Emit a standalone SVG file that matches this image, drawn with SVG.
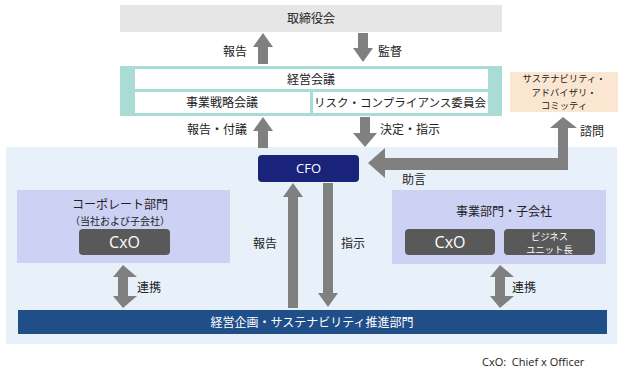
<svg xmlns="http://www.w3.org/2000/svg" width="624" height="371" viewBox="0 0 624 371">
<defs>
<style>
text{font-family:"Noto Sans CJK JP","Liberation Sans",sans-serif;font-size:12px;fill:#222;}
.c{text-anchor:middle;}
.r{text-anchor:end;}
.w{fill:#fff;}
.s93{font-size:9.3px;}
.s10{font-size:10px;}
.s11{font-size:11px;}
.s115{font-size:11.5px;}
.s13{font-size:13px;}
.s16{font-size:16px;}
.lat{font-family:"Open Sans","Liberation Sans",sans-serif;}
.arrow{fill:#808080;}
.dark{fill:#595959;}
</style>
</defs>
<rect x="0" y="0" width="624" height="371" fill="#fff"/>
<!-- light blue background region -->
<rect id="bg" x="6" y="147" width="611" height="197" fill="#e8f0fa"/>

<g id="board">
<rect x="120" y="5" width="382" height="27" fill="#e6e6e6"/>
<text class="c" x="311" y="23">取締役会</text>
</g>

<g id="mgmt">
<rect x="120" y="66" width="382" height="50" fill="#a8dcd4"/>
<rect x="135" y="69" width="353" height="20" fill="#fff"/>
<text class="c" x="311" y="84">経営会議</text>
<rect x="135" y="92" width="175" height="21" fill="#fff"/>
<text class="c" x="222" y="107">事業戦略会議</text>
<rect x="313" y="92" width="175" height="21" fill="#fff"/>
<text class="c s115" x="400" y="107" textLength="172" lengthAdjust="spacingAndGlyphs">リスク・コンプライアンス委員会</text>
</g>

<g id="sac">
<rect x="510" y="72" width="108" height="40" fill="#fbe6d2"/>
<text class="c s93" x="564" y="82"><tspan x="564">サステナビリティ・</tspan><tspan x="564" dy="13.6">アドバイザリ・</tspan><tspan x="564" dy="13.6">コミッティ</tspan></text>
</g>

<g id="cfo">
<rect x="258" y="155" width="101" height="27" rx="4" fill="#1a237a"/>
<text class="c w s13 lat" x="308.5" y="173">CFO</text>
</g>

<g id="corporate">
<rect x="17" y="190" width="213" height="73" fill="#cdd1f4"/>
<text class="c" x="120" y="209">コーポレート部門</text>
<text class="c s10" x="120" y="224.5">（当社および子会社）</text>
<rect x="79" y="229" width="91" height="26" rx="4" class="dark"/>
<text class="c w s16 lat" x="124.5" y="248">CxO</text>
</g>

<g id="business">
<rect x="392" y="190" width="214" height="74" fill="#cdd1f4"/>
<text class="c" x="504" y="216">事業部門・子会社</text>
<rect x="405" y="229" width="90" height="26" rx="4" class="dark"/>
<text class="c w s16 lat" x="450" y="248">CxO</text>
<rect x="504" y="229" width="91" height="26" rx="4" class="dark"/>
<text class="c w s93" x="549.5" y="239.5"><tspan x="549.5">ビジネス</tspan><tspan x="549.5" dy="13.6">ユニット長</tspan></text>
</g>

<g id="planning">
<rect x="18" y="310" width="589" height="24" fill="#1f4e89"/>
<text class="c w" x="312" y="327">経営企画・サステナビリティ推進部門</text>
</g>

<g id="connectors">
<!-- 報告 up to board -->
<polygon class="arrow" points="258,64 268,64 268,47 273,47 263,33 253,47 258,47"/>
<!-- 監督 down -->
<polygon class="arrow" points="358,33 368,33 368,48 373,48 363,62 353,48 358,48"/>
<!-- 報告・付議 up -->
<polygon class="arrow" points="258,148 268,148 268,131 273,131 263,117 253,131 258,131"/>
<!-- 決定・指示 down -->
<polygon class="arrow" points="360,117 370,117 370,133 377,133 365,147 353,133 360,133"/>
<!-- 諮問 / 助言 elbow -->
<polygon class="arrow" points="368,163 385,148 385,158 558,158 558,128 550,128 563,117 577,128 568,128 568,170 385,170 385,178"/>
<!-- 報告 up to CFO -->
<polygon class="arrow" points="288,308 298,308 298,197 303,197 293,183 283,197 288,197"/>
<!-- 指示 down from CFO -->
<polygon class="arrow" points="323,183 333,183 333,293 338,293 328,307 318,293 323,293"/>
<!-- 連携 left double -->
<polygon class="arrow" points="123,265 137,277 128,277 128,296 137,296 123,308 113,296 118,296 118,277 113,277"/>
<!-- 連携 right double -->
<polygon class="arrow" points="500,265 514,277 505,277 505,296 514,296 500,308 490,296 495,296 495,277 490,277"/>
</g>

<g id="labels">
<text class="r" x="247" y="56">報告</text>
<text x="378" y="56">監督</text>
<text class="r" x="247" y="134">報告・付議</text>
<text x="380" y="134">決定・指示</text>
<text x="580" y="136">諮問</text>
<text x="402" y="184">助言</text>
<text x="253" y="248">報告</text>
<text x="341" y="248">指示</text>
<text x="137" y="292">連携</text>
<text x="512" y="292">連携</text>
<text class="s11 lat" x="482" y="366" style="white-space:pre">CxO:  Chief x Officer</text>
</g>
</svg>
